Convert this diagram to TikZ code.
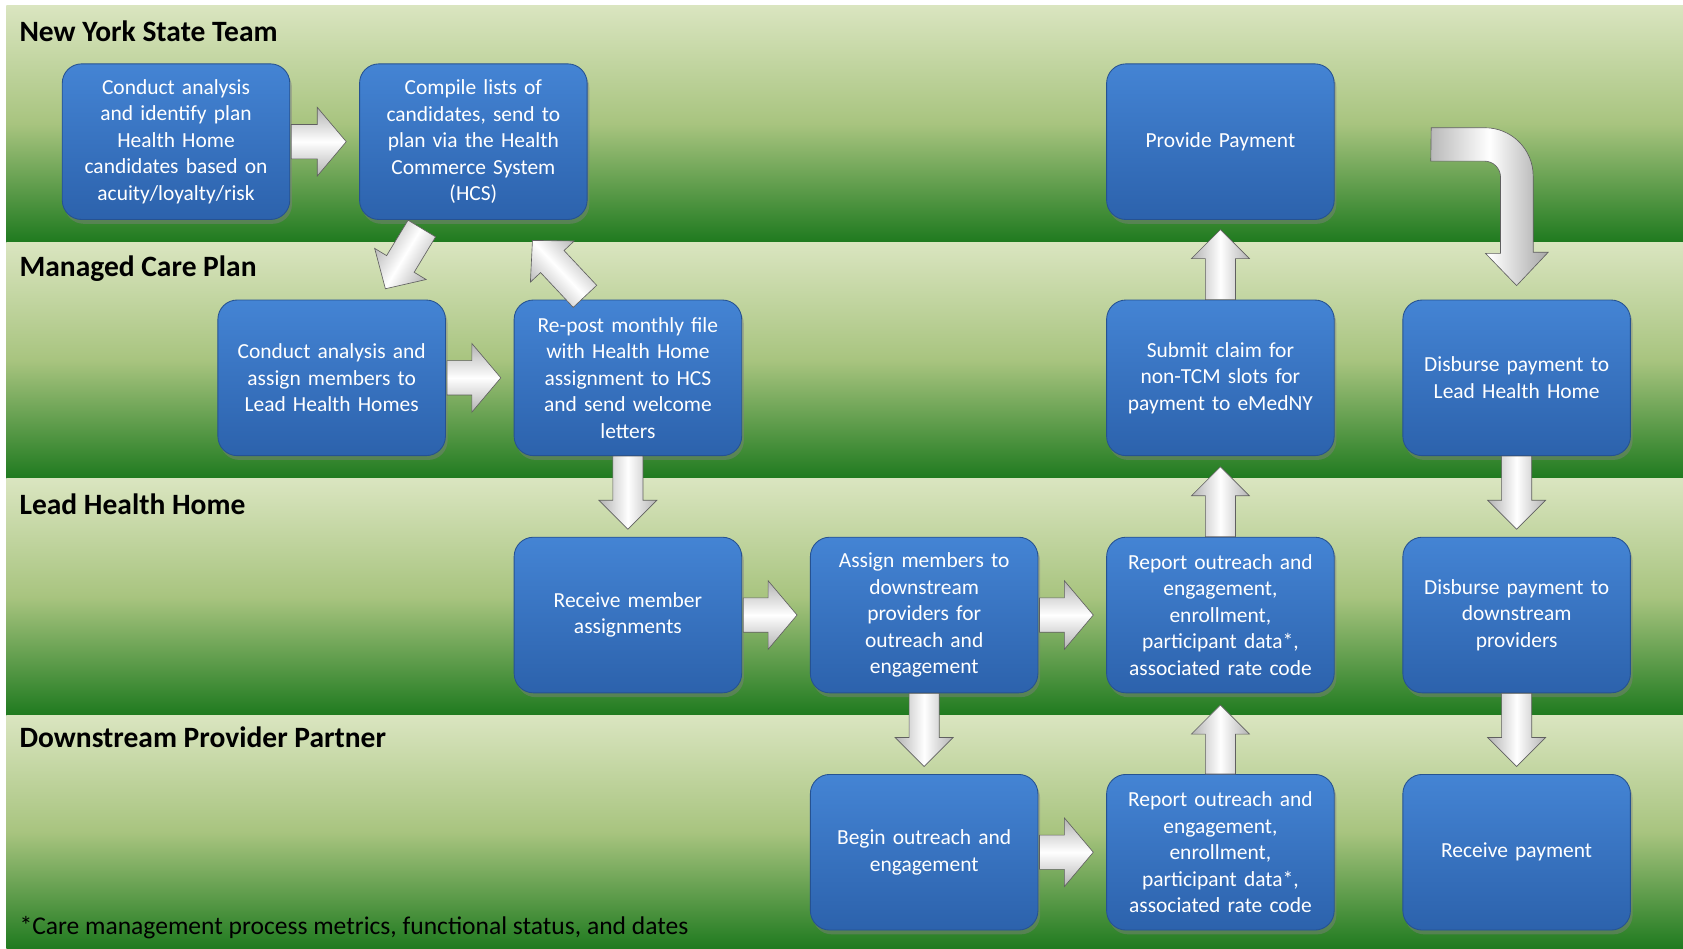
\documentclass[tikz,border=0pt]{standalone}
\usepackage{fontspec}
\setmainfont{Carlito}
\usetikzlibrary{shadows}
\definecolor{lanetop}{RGB}{218,229,192}
\definecolor{lanemid}{RGB}{168,196,127}
\definecolor{lanebot}{RGB}{31,122,31}
\definecolor{boxtop}{RGB}{68,132,212}
\definecolor{boxbot}{RGB}{44,98,172}
\definecolor{boxedge}{RGB}{38,82,145}
\newcommand\BAarrow[5]{%
 \path (#1); \pgfgetlastxy{\BAax}{\BAay}%
 \path (#2); \pgfgetlastxy{\BAbx}{\BAby}%
 \pgfmathsetmacro\BAang{atan2(\BAby-\BAay,\BAbx-\BAax)}%
 \pgfmathsetmacro\BAlen{veclen(\BAbx-\BAax,\BAby-\BAay)}%
 \pgfmathsetmacro\BAh{\BAlen-#5}%
 \shade[barrow, shading angle=\BAang, shift={(\BAax,\BAay)}, rotate=\BAang]
   (0pt,-#3pt) -- (\BAh pt,-#3pt) -- (\BAh pt,-#4pt) -- (\BAlen pt,0pt)
   -- (\BAh pt,#4pt) -- (\BAh pt,#3pt) -- (0pt,#3pt) -- cycle;}
\begin{document}
\begin{tikzpicture}[x=1pt,y=-1pt,
  lane/.style={top color=lanetop, bottom color=lanebot, middle color=lanemid},
  lanetitle/.style={anchor=west, inner sep=0pt, font=\fontsize{27.5}{32}\selectfont\bfseries},
  box/.style={rectangle, rounded corners=18pt, minimum width=212pt, minimum height=145pt,
    text width=206pt, align=center, inner sep=0pt, top color=boxtop, bottom color=boxbot,
    draw=boxedge, line width=0.8pt, text=white, font=\fontsize{20}{24.7}\selectfont,
    drop shadow={opacity=0.45, shadow xshift=2pt, shadow yshift=-4pt}},
  barrow/.style={draw=gray!75!black, line width=0.6pt, top color=gray!60, bottom color=gray!60,
    middle color=white},
  note/.style={anchor=west, inner sep=0pt, font=\fontsize{23.8}{28}\selectfont}]
\useasboundingbox[fill=white] (0,0) rectangle (1568,884);
% lanes
\shade[lane] (6,5) rectangle (1568,225.5);
\shade[lane] (6,225.5) rectangle (1568,446);
\shade[lane] (6,446) rectangle (1568,666.5);
\shade[lane] (6,666.5) rectangle (1568,884);
\node[lanetitle] (t1) at (18,29) {New York State Team};
\node[lanetitle] (t2) at (18,250) {Managed Care Plan};
\node[lanetitle] (t3) at (18,470) {Lead Health Home};
\node[lanetitle] (t4) at (18,687) {Downstream Provider Partner};
\node[note] (fn) at (18,864) {*Care management process metrics, functional status, and dates};
% boxes
\node[box] (A) at (164,132) {Conduct analysis\\and identify plan\\Health Home\\candidates based on\\acuity/loyalty/risk};
\node[box] (B) at (441,132) {Compile lists of\\candidates, send to\\plan via the Health\\Commerce System\\(HCS)};
\node[box] (C) at (1137,132) {Provide Payment};
\node[box] (D) at (309,352) {Conduct analysis and\\assign members to\\Lead Health Homes};
\node[box] (E) at (585,352) {Re-post monthly file\\with Health Home\\assignment to HCS\\and send welcome\\letters};
\node[box] (F) at (1137,352) {Submit claim for\\non-TCM slots for\\payment to eMedNY};
\node[box] (G) at (1413,352) {Disburse payment to\\Lead Health Home};
\node[box] (H) at (585,573) {Receive member\\assignments};
\node[box] (I) at (861,573) {Assign members to\\downstream\\providers for\\outreach and\\engagement};
\node[box] (J) at (1137,573) {Report outreach and\\engagement,\\enrollment,\\participant data*,\\associated rate code};
\node[box] (K) at (1413,573) {Disburse payment to\\downstream\\providers};
\node[box] (L) at (861,794) {Begin outreach and\\engagement};
\node[box] (M) at (1137,794) {Report outreach and\\engagement,\\enrollment,\\participant data*,\\associated rate code};
\node[box] (N) at (1413,794) {Receive payment};
% arrows
\BAarrow{[xshift=1pt]A.east}{[xshift=-12pt]B.west}{16}{32}{27}
\BAarrow{[xshift=-48pt,yshift=-8pt]B.south}{[xshift=50pt,yshift=10pt]D.north}{15}{28}{27}
\BAarrow{[xshift=-40pt,yshift=3pt]E.north}{[xshift=55pt,yshift=-19pt]B.south}{15}{28}{27}
\BAarrow{[xshift=1pt]D.east}{[xshift=-12pt]E.west}{16}{32}{27}
\BAarrow{E.south}{[yshift=7pt]H.north}{14}{27}{27}
\BAarrow{[xshift=1pt]H.east}{[xshift=-12pt]I.west}{16}{32}{27}
\BAarrow{[xshift=1pt]I.east}{[xshift=-12pt]J.west}{16}{32}{27}
\BAarrow{I.south}{[yshift=7pt]L.north}{14}{27}{27}
\BAarrow{[xshift=1pt]L.east}{[xshift=-12pt]M.west}{16}{32}{27}
\BAarrow{M.north}{[yshift=-11pt]J.south}{14}{27}{27}
\BAarrow{J.north}{[yshift=-10pt]F.south}{14}{27}{27}
\BAarrow{F.north}{[yshift=-9pt]C.south}{14}{27}{27}
\BAarrow{G.south}{[yshift=7pt]K.north}{14}{27}{27}
\BAarrow{K.south}{[yshift=7pt]N.north}{14}{27}{27}
% bent arrow C -> G
\coordinate (cgS) at ([xshift=90pt,yshift=13pt]C.east);
\coordinate (cgT) at ([yshift=13pt]G.north);
\shade[draw=gray!75!black, line width=0.6pt, left color=gray!55, right color=gray!70, middle color=white]
  (cgS) -- ++(50,0) .. controls +(24.9,0) and +(0,-24.9) .. ++(45,45) -- ++(0,71) -- ++(14,0)
  -- (cgT) -- ++(-29,-30) -- ++(14,0) -- ++(0,-71) .. controls +(0,-8.3) and +(8.3,0) .. ++(-15,-15)
  -- ++(-50,0) -- cycle;
\end{tikzpicture}
\end{document}
